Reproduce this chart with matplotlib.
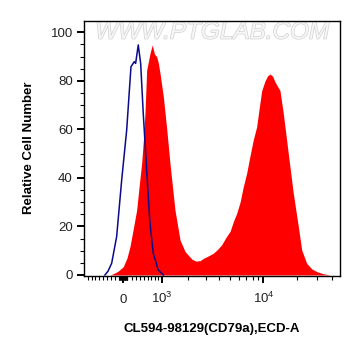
"""Flow cytometry histogram: CD79a staining vs isotype control."""

import numpy as np
import matplotlib
matplotlib.use("Agg")
import matplotlib.pyplot as plt
import matplotlib.patheffects as pe

plt.rcParams["font.family"] = ["Liberation Sans", "DejaVu Sans"]
plt.rcParams["mathtext.fontset"] = "custom"
plt.rcParams["mathtext.rm"] = "Liberation Sans"
plt.rcParams["mathtext.it"] = "Liberation Sans"

# isotype control (blue outline)
ctrl_x = [-443, -368, -277, -157, -38, 81, 183, 262, 296, 360, 420, 486, 575,
          663, 754, 900, 1056]
ctrl_y = [0, 1.5, 4.8, 15.8, 39, 59.7, 85.8, 87.9, 87.2, 94.8, 87.2, 66.6, 43,
          21.3, 8.9, 2, 0]

# CD79a stained sample (red fill)
stain_x = [-318, -238, -126, 0, 88, 159, 238, 321, 378, 445, 491, 530, 575,
           622, 663, 726, 789, 853, 907, 953, 1056, 1170, 1278, 1460, 1661,
           1881, 2205, 2418, 2652, 2837, 3065, 3519, 3858, 4211, 4614, 5031,
           5382, 5767, 6186, 6583, 7089, 7584, 8108, 8693, 9117, 9649, 10323,
           10862, 11425, 12020, 12647, 14003, 14982, 16590, 18360, 20341,
           21786, 24116, 26702, 29556, 33600, 38740]
stain_y = [0, 0.5, 1.5, 3.4, 7, 11.7, 19, 26.8, 36, 46, 56, 66.6, 84.5,
           88, 91.3, 94.8, 91, 90, 87, 83, 73.5, 59.7, 46, 26.8, 14.4,
           9.6, 6.5, 5.7, 5.9, 6.8, 7.5, 8.9, 10.5, 12.4, 15.5, 18,
           22, 25.4, 30, 36, 42, 49, 55.6, 61, 68, 76, 80,
           82, 82.8, 82, 79.6, 76, 66.6, 50, 33.7, 20,
           10.3, 4.8, 2.5, 1.4, 0.5, 0]

major_ticks = [0, 1000, 10000]
major_labels = ["0", "$10^3$", "$10^4$"]
minor_ticks = ([-v for v in range(100, 1000, 100)] + [-v for v in range(10, 100, 10)]
               + list(range(10, 100, 10)) + list(range(100, 1000, 100))
               + list(range(2000, 10000, 1000)) + [20000, 30000, 40000])

W = 1165.0  # width of the near-linear zone around zero


def fwd(v):
    return np.arcsinh(np.asarray(v, dtype=float) / W) / np.log(10)


def inv(p):
    return W * np.sinh(np.asarray(p, dtype=float) * np.log(10))


fig = plt.figure(figsize=(3.61, 3.56), dpi=100)
ax = fig.add_axes([0.2327, 0.2256, 0.7091, 0.7163])
ax.set_xscale("function", functions=(fwd, inv))

ax.fill_between(stain_x, stain_y, 0, color="#ff0000", linewidth=0, zorder=2)
ax.plot(ctrl_x, ctrl_y, color="#0a0a8c", linewidth=1.1, zorder=3)

ax.set_xlim(-1030, 47440)
ax.set_ylim(-0.3, 104.8)

ax.set_xticks(major_ticks)
ax.set_xticklabels(major_labels)
ax.set_xticks(minor_ticks, minor=True)
ax.set_yticks([0, 20, 40, 60, 80, 100])
ax.set_yticks(np.arange(0, 105, 5), minor=True)

ax.tick_params(axis="both", which="major", direction="out", length=5, width=1.4,
               labelsize=9.5, colors="black", labelcolor="#222222")
ax.tick_params(axis="both", which="minor", direction="out", length=3, width=0.8)
ax.tick_params(axis="x", which="major", pad=15)
ax.tick_params(axis="y", which="major", pad=3)
plt.setp(ax.get_xticklabels(), va="baseline")

for s in ax.spines.values():
    s.set_linewidth(1.0)

ax.set_ylabel("Relative Cell Number", fontsize=9.5, fontweight="bold", labelpad=11)
ax.set_xlabel("CL594-98129(CD79a),ECD-A", fontsize=9.5, fontweight="bold", labelpad=12)

ax.text(0.5, 0.955, "WWW.PTGLAB.COM", transform=ax.transAxes, ha="center", va="center",
        fontsize=17.5, style="italic", color="#f6f6f6", zorder=1,
        path_effects=[pe.withStroke(linewidth=1.0, foreground="#d2d2d2")])

fig.savefig("out.png", dpi=100)
